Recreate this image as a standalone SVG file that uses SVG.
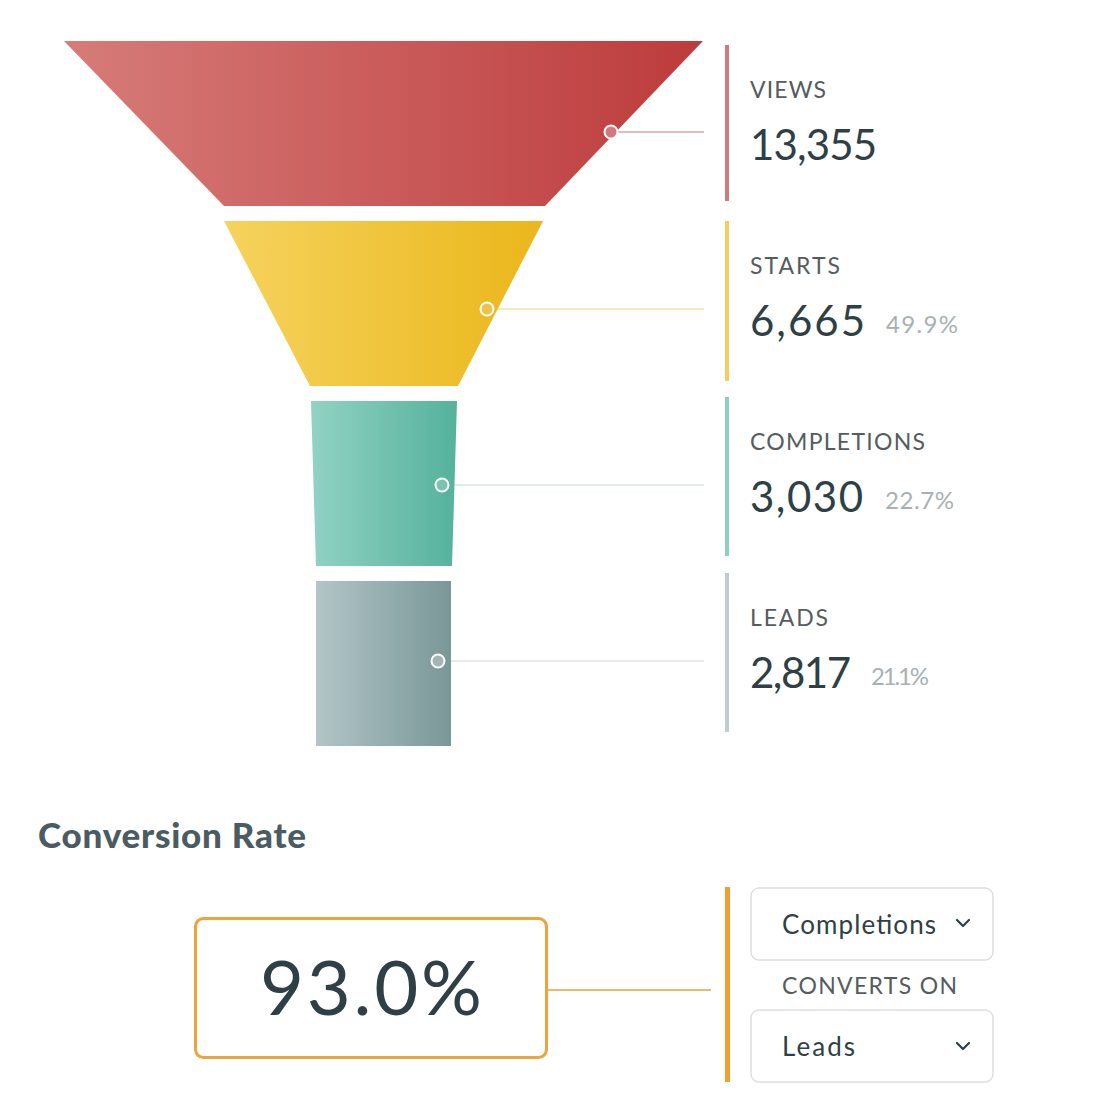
<svg xmlns="http://www.w3.org/2000/svg" width="1108" height="1101" viewBox="0 0 1108 1101">
<defs>
<linearGradient id="gRed" x1="0" y1="0" x2="1" y2="0"><stop offset="0" stop-color="#d67c79"/><stop offset="1" stop-color="#bd3b3c"/></linearGradient>
<linearGradient id="gYel" x1="0" y1="0" x2="1" y2="0"><stop offset="0" stop-color="#f6d35e"/><stop offset="1" stop-color="#eab61a"/></linearGradient>
<linearGradient id="gTeal" x1="0" y1="0" x2="1" y2="0"><stop offset="0" stop-color="#91d2c3"/><stop offset="1" stop-color="#55b29c"/></linearGradient>
<linearGradient id="gGrey" x1="0" y1="0" x2="1" y2="0"><stop offset="0" stop-color="#b2c5c7"/><stop offset="1" stop-color="#7a9798"/></linearGradient>
<style>
.lbl{font-family:Lato,"Liberation Sans",sans-serif;font-size:23px;fill:#555c60}
.num{font-family:Lato,"Liberation Sans",sans-serif;font-size:42px;fill:#2e3f46}
.pct{font-family:Lato,"Liberation Sans",sans-serif;font-size:24px;fill:#a8b0b2}
.dot{stroke:#fff;stroke-width:2}
.sel{fill:#fff;stroke:#dcdfe0;stroke-width:1.5}
.seltxt{font-family:Lato,"Liberation Sans",sans-serif;font-size:26px;fill:#2e3f46}
.chev{fill:none;stroke:#2e3f46;stroke-width:2.2;stroke-linecap:round;stroke-linejoin:round}
</style>
</defs>
<rect width="1108" height="1101" fill="#fff"/>

<g id="connectors">
<line x1="611" y1="132" x2="704" y2="132" stroke="#d9a4a6" stroke-width="1.5"/>
<line x1="487" y1="309" x2="704" y2="309" stroke="#f1e3a6" stroke-width="1.5"/>
<line x1="442" y1="485" x2="704" y2="485" stroke="#d2e6e3" stroke-width="1.5"/>
<line x1="438" y1="661" x2="704" y2="661" stroke="#dfe4e5" stroke-width="1.5"/>
<line x1="547" y1="990" x2="711" y2="990" stroke="#eaa23a" stroke-width="1.5"/>
</g>

<g id="views">
<polygon points="64,41 703,41 545,206 224,206" fill="url(#gRed)"/>
<circle cx="611" cy="132" r="6.5" fill="#d4787c" class="dot"/>
<rect x="725" y="45" width="4" height="156" fill="#d07a7e"/>
<text x="750" y="98" class="lbl" textLength="76">VIEWS</text>
<text x="750" y="160" class="num" textLength="127">13,355</text>
</g>

<g id="starts">
<polygon points="224,221 543,221 458,386 310,386" fill="url(#gYel)"/>
<circle cx="487" cy="309" r="6.5" fill="#eec245" class="dot"/>
<rect x="725" y="221" width="4" height="160" fill="#f0d060"/>
<text x="750" y="274" class="lbl" textLength="90">STARTS</text>
<text x="750" y="336" class="num" textLength="115">6,665</text>
<text x="886" y="333" class="pct" textLength="72">49.9%</text>
</g>

<g id="completions">
<polygon points="311,401 457,401 452,566 316,566" fill="url(#gTeal)"/>
<circle cx="442" cy="485" r="6.5" fill="#7cc2b1" class="dot"/>
<rect x="725" y="397" width="4" height="159" fill="#8fcfc0"/>
<text x="750" y="450" class="lbl" textLength="175">COMPLETIONS</text>
<text x="750" y="512" class="num" textLength="113">3,030</text>
<text x="885" y="509" class="pct" textLength="69">22.7%</text>
</g>

<g id="leads">
<rect x="316" y="581" width="135" height="165" fill="url(#gGrey)"/>
<circle cx="438" cy="661" r="6.5" fill="#a5b5b6" class="dot"/>
<rect x="725" y="573" width="4" height="159" fill="#c0ccce"/>
<text x="750" y="626" class="lbl" textLength="78">LEADS</text>
<text x="750" y="688" class="num" textLength="101">2,817</text>
<text x="871" y="685" class="pct" textLength="58">21.1%</text>
</g>

<g id="title">
<text x="38" y="848" font-family="Lato,'Liberation Sans',sans-serif" font-size="35" font-weight="900" fill="#4a5b61" textLength="268">Conversion Rate</text>
</g>

<g id="rate">
<rect x="195.5" y="918.5" width="351" height="139" rx="8" fill="#fff" stroke="#eca43c" stroke-width="3"/>
<text x="260" y="1015" font-family="Lato,'Liberation Sans',sans-serif" font-size="76" fill="#2e3f46" textLength="222">93.0%</text>
</g>

<g id="selectors">
<rect x="725" y="887" width="5" height="195" fill="#eda130"/>
<rect x="751" y="888" width="242" height="72" rx="8" class="sel"/>
<text x="782" y="934" class="seltxt" textLength="154">Completions</text>
<polyline points="957,920 963,926 969,920" class="chev"/>
<text x="782" y="994" class="lbl" fill="#5f666a" textLength="175">CONVERTS ON</text>
<rect x="751" y="1010" width="242" height="72" rx="8" class="sel"/>
<text x="782" y="1056" class="seltxt" textLength="73">Leads</text>
<polyline points="957,1043 963,1049 969,1043" class="chev"/>
</g>
</svg>
